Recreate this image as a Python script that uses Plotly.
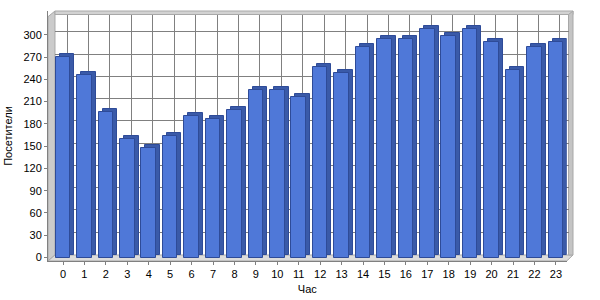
import plotly.graph_objects as go

hours = list(range(24))
visitors = [270, 246, 196, 160, 147, 164, 190, 186, 199, 225, 225, 216,
            257, 249, 283, 294, 295, 308, 298, 308, 290, 252, 284, 290]
y_ticks = list(range(0, 301, 30))
x_title = "Час"
y_title = "Посетители"

# pixel geometry of the plotting frame
PL, PR, PT, PB = 48, 573, 11, 261
W, H = PR - PL, PB - PT


def fx(p):
    return (p - PL) / W


def fy(p):
    return (PB - p) / H


PX_PER_X = 21.43
PX_PER_Y = 0.7423
DX = 4 / PX_PER_X      # depth offset in x units
DY = 3 / PX_PER_Y      # depth offset in y units
BW = 0.68

FRONT = "#4F78D8"
SIDE = "#3A5AA8"
EDGE = "#2E4B98"
GRID = "#808080"
FONT = dict(family="Liberation Sans, Arial, sans-serif", size=11, color="#000000")

fig = go.Figure()

# back wall grid subplot (x, y)
fig.add_trace(go.Scatter(x=[None], y=[None], xaxis="x", yaxis="y",
                         showlegend=False, hoverinfo="skip"))

# 3D depth (side + top) of bars
fig.add_trace(go.Bar(x=hours, y=visitors, base=DY, xaxis="x2", yaxis="y2",
                     width=BW, offset=-BW / 2 + DX,
                     marker=dict(color=SIDE, line=dict(color=EDGE, width=1)),
                     showlegend=False, hoverinfo="skip"))
# front faces
fig.add_trace(go.Bar(x=hours, y=visitors, xaxis="x2", yaxis="y2",
                     width=BW, offset=-BW / 2,
                     marker=dict(color=FRONT, line=dict(color=EDGE, width=1)),
                     showlegend=False))

x2_lo = (PL - 63) / PX_PER_X
x2_hi = (566.7 - 63) / PX_PER_X
y2_lo = (257.5 - PB) / PX_PER_Y
y2_hi = (257.5 - PT) / PX_PER_Y

gx_lo = (55 - 4 - 63) / PX_PER_X
gx_hi = (568.5 - 4 - 63) / PX_PER_X
gy_lo = (257.5 - 3 - 255) / PX_PER_Y
gy_hi = (257.5 - 3 - 14.5) / PX_PER_Y


def poly(pts, color):
    path = "M " + " L ".join(f"{fx(a):.5f},{fy(b):.5f}" for a, b in pts) + " Z"
    return dict(type="path", xref="paper", yref="paper", path=path,
                fillcolor=color, line=dict(color="#A8A8A8", width=1), layer="below")


shapes = [
    poly([(48, 261), (48, 16.7), (55, 11), (55, 255)], "#CBCBCB"),          # left wall
    poly([(48, 261), (55, 255), (573, 255), (566.7, 261)], "#DCDCDC"),      # floor
    poly([(55, 11), (573, 11), (573, 14.5), (55, 14.5)], "#D2D2D2"),        # top edge
    poly([(568.5, 14.5), (573, 11), (573, 255), (568.5, 255)], "#C4C4C4"),  # right edge
]

fig.update_layout(
    width=600, height=300,
    margin=dict(l=PL, r=600 - PR, t=PT, b=300 - PB, autoexpand=False),
    paper_bgcolor="white", plot_bgcolor="rgba(0,0,0,0)",
    font=FONT, bargap=0, barmode="overlay",
    shapes=shapes,
    xaxis=dict(domain=[fx(55), fx(568.5)], range=[gx_lo, gx_hi], anchor="y",
               tickvals=hours, showticklabels=False, ticks="", showgrid=True,
               gridcolor=GRID, gridwidth=1, zeroline=False, showline=False,
               automargin=False),
    yaxis=dict(domain=[fy(255), fy(14.5)], range=[gy_lo, gy_hi], anchor="x",
               tickvals=y_ticks, showticklabels=False, ticks="", showgrid=True,
               gridcolor=GRID, gridwidth=1, zeroline=False, showline=False,
               automargin=False),
    xaxis2=dict(domain=[0, fx(566.7)], range=[x2_lo, x2_hi], anchor="y2",
                tickvals=hours, ticktext=[str(h) for h in hours],
                ticks="outside", ticklen=3, tickcolor=GRID,
                showgrid=False, zeroline=False, showline=True, linecolor=GRID,
                automargin=False,
                title=dict(text=x_title, standoff=6, font=FONT)),
    yaxis2=dict(domain=[0, 1], range=[y2_lo, y2_hi], anchor="x2",
                tickvals=y_ticks, ticks="outside", ticklen=3, tickcolor=GRID,
                showgrid=False, zeroline=False, showline=True, linecolor=GRID,
                automargin=False,
                title=dict(text=y_title, standoff=8, font=FONT)),
)

fig.write_html("out.html")
